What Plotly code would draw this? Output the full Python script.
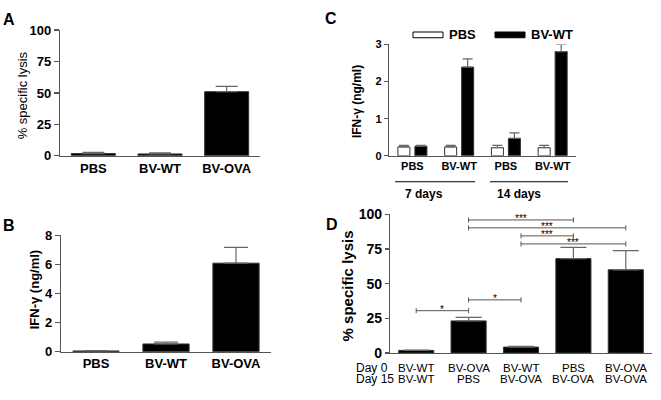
import plotly.graph_objects as go

# ---------------- data ----------------
cats_A = ["PBS", "BV-WT", "BV-OVA"]
lysis_A = [1.8, 1.5, 51.0]
lysis_A_err = [1.0, 0.8, 4.2]

cats_B = ["PBS", "BV-WT", "BV-OVA"]
ifn_B = [0.05, 0.53, 6.08]
ifn_B_err = [0.02, 0.13, 1.08]

groups_C = ["PBS", "BV-WT", "PBS", "BV-WT"]
days_C = ["7 days", "14 days"]
series_C = ["PBS", "BV-WT"]
ifn_C_pbs = [0.24, 0.24, 0.22, 0.22]
ifn_C_pbs_err = [0.04, 0.04, 0.06, 0.06]
ifn_C_bvwt = [0.26, 2.39, 0.47, 2.81]
ifn_C_bvwt_err = [0.02, 0.22, 0.15, 0.19]

day0_D = ["BV-WT", "BV-OVA", "BV-WT", "PBS", "BV-OVA"]
day15_D = ["BV-WT", "PBS", "BV-OVA", "BV-OVA", "BV-OVA"]
lysis_D = [1.8, 23.1, 4.2, 68.1, 60.0]
lysis_D_err = [0.2, 2.6, 0.6, 8.1, 13.9]
# significance: (bar i, bar j, level, label)
sig_D = [(0, 1, 30.5, "*"), (1, 2, 38.3, "*"), (1, 3, 96.0, "***"),
         (1, 4, 90.3, "***"), (2, 3, 84.5, "***"), (2, 4, 78.7, "***")]

# ---------------- style ----------------
W, H = 661, 400
FONT = "Liberation Sans, Arial, sans-serif"
AX = "#555555"
ERR = "#666666"


def px(x):
    return x / W


def py(y):
    return 1 - y / H


fig = go.Figure()


def bars(x, y, err, xa, ya, cap, color="black", width=0.66, offset=None, name=None):
    fig.add_trace(go.Bar(
        x=x, y=y, xaxis=xa, yaxis=ya, width=width, offset=offset, name=name,
        marker=dict(color=color, line=dict(color="#333333", width=1)),
        error_y=dict(type="data", symmetric=False, array=err,
                     arrayminus=[0] * len(err), color=ERR, thickness=1.2, width=cap),
        showlegend=False, hoverinfo="skip",
    ))


idx = lambda n: list(range(n))

bars(idx(3), lysis_A, lysis_A_err, "x", "y", 11)
bars(idx(3), ifn_B, ifn_B_err, "x2", "y2", 12)
bars(idx(4), ifn_C_pbs, ifn_C_pbs_err, "x3", "y3", 5, color="white",
     width=0.257, offset=-0.31, name=series_C[0])
bars(idx(4), ifn_C_bvwt, ifn_C_bvwt_err, "x3", "y3", 5, color="black",
     width=0.257, offset=0.054, name=series_C[1])
bars(idx(5), lysis_D, lysis_D_err, "x4", "y4", 13, width=0.67)

bold = lambda s: dict(family=FONT, size=s, color="black", weight="bold")
reg = lambda s: dict(family=FONT, size=s, color="black")


def xax(dom, n, labels, size, show=True):
    return dict(domain=dom, range=[-0.5, n - 0.5], showline=True, linecolor=AX,
                linewidth=1.2, ticks="", tickvals=idx(n), ticktext=labels,
                showticklabels=show, tickfont=bold(size), showgrid=False,
                zeroline=False, fixedrange=True)


def yax(dom, rng, dt, size, xa, ticklen=5):
    return dict(domain=dom, range=rng, dtick=dt, showline=True, linecolor=AX,
                linewidth=1.2, ticks="outside", ticklen=ticklen, tickcolor=AX,
                tickwidth=1.2, tickfont=bold(size), showgrid=False,
                zeroline=False, anchor=xa, fixedrange=True)


fig.update_layout(
    width=W, height=H, margin=dict(l=0, r=0, t=0, b=0),
    paper_bgcolor="white", plot_bgcolor="white", showlegend=False,
    font=dict(family=FONT, color="black"),
    xaxis=dict(**xax([px(60), px(260)], 3, cats_A, 13), anchor="y"),
    yaxis=yax([py(154), py(23)], [0, 100], 25, 13, "x"),
    xaxis2=dict(**xax([px(61), px(271)], 3, cats_B, 13), anchor="y2"),
    yaxis2=yax([py(358), py(236.7)], [0, 8], 2, 13, "x2"),
    xaxis3=dict(**xax([px(389), px(576)], 4, groups_C, 11), anchor="y3"),
    yaxis3=yax([py(154), py(38)], [0, 3], 1, 11, "x3", ticklen=4),
    xaxis4=dict(**xax([px(390), px(652)], 5, day0_D, 11, show=False), anchor="y4"),
    yaxis4=yax([py(359.3), py(215)], [0, 100], 25, 14, "x4", ticklen=4),
)

ann = []
for letter, (lx, ly) in zip("ABCD", [(9, 12), (9, 227), (331, 11), (332, 225)]):
    ann.append(dict(text=letter, x=px(lx), y=py(ly), xref="paper", yref="paper",
                    showarrow=False, font=bold(16), xanchor="center", yanchor="middle"))

titles = [("% specific lysis", 22, 91, reg(13)),
          ("IFN-γ (ng/ml)", 34, 294, bold(13)),
          ("IFN-γ (ng/ml)", 357, 97, bold(12)),
          ("% specific lysis", 347, 290, bold(15))]
for t, tx, ty, f in titles:
    ann.append(dict(text=t, x=px(tx), y=py(ty), xref="paper", yref="paper",
                    textangle=-90, showarrow=False, font=f,
                    xanchor="center", yanchor="middle"))

shapes = []
day_spans = [(-0.37, 1.34), (1.66, 3.33)]
day_text_x = [0.25, 2.28]
for (a, b), t, tx in zip(day_spans, days_C, day_text_x):
    shapes.append(dict(type="line", xref="x3", yref="paper", x0=a, x1=b,
                       y0=py(181), y1=py(181), line=dict(color="black", width=1)))
    ann.append(dict(text=t, x=tx, y=py(194), xref="x3", yref="paper",
                    showarrow=False, font=bold(12), xanchor="center", yanchor="middle"))

leg = [(413, "white", series_C[0]), (495, "black", series_C[1])]
for lx, col, name in leg:
    shapes.append(dict(type="rect", xref="paper", yref="paper", x0=px(lx), x1=px(lx + 30),
                       y0=py(31), y1=py(25), fillcolor=col, line=dict(color="black", width=1)))
    ann.append(dict(text=name, x=px(lx + 34), y=py(28), xref="paper", yref="paper",
                    showarrow=False, font=bold(13), xanchor="left", yanchor="middle"))

ROW1, ROW2 = 375.5, 386.5
for t, yy in (("Day 0", ROW1), ("Day 15", ROW2)):
    ann.append(dict(text=t, x=px(354), y=py(yy), xref="paper", yref="paper",
                    showarrow=False, font=reg(12), xanchor="left", yanchor="middle"))
for i, (a, b) in enumerate(zip(day0_D, day15_D)):
    for t, yy in ((a, ROW1), (b, ROW2)):
        ann.append(dict(text=t, x=i, y=py(yy), xref="x4", yref="paper",
                        showarrow=False, font=reg(11.5),
                        xanchor="center", yanchor="middle"))

for i, j, lvl, lab in sig_D:
    shapes.append(dict(type="line", xref="x4", yref="y4", x0=i, x1=j, y0=lvl, y1=lvl,
                       line=dict(color=AX, width=1)))
    for xe in (i, j):
        shapes.append(dict(type="line", xref="x4", yref="y4", x0=xe, x1=xe,
                           ysizemode="pixel", yanchor=lvl, y0=-2.5, y1=2.5,
                           line=dict(color=AX, width=1)))
    ann.append(dict(text=lab, x=(i + j) / 2, y=lvl, xref="x4", yref="y4",
                    showarrow=False, font=reg(10),
                    xanchor="center", yanchor="middle", yshift=1))

fig.update_layout(annotations=ann, shapes=shapes)

reset_css = (
    "var s=document.createElement('style');"
    "s.innerHTML='html,body{margin:0 !important;padding:0 !important;overflow:hidden !important;}';"
    "document.head.appendChild(s);"
    "document.documentElement.style.margin='0';document.body.style.margin='0';"
)
fig.write_html("out.html", config={"displayModeBar": False, "staticPlot": True},
               post_script=reset_css)
